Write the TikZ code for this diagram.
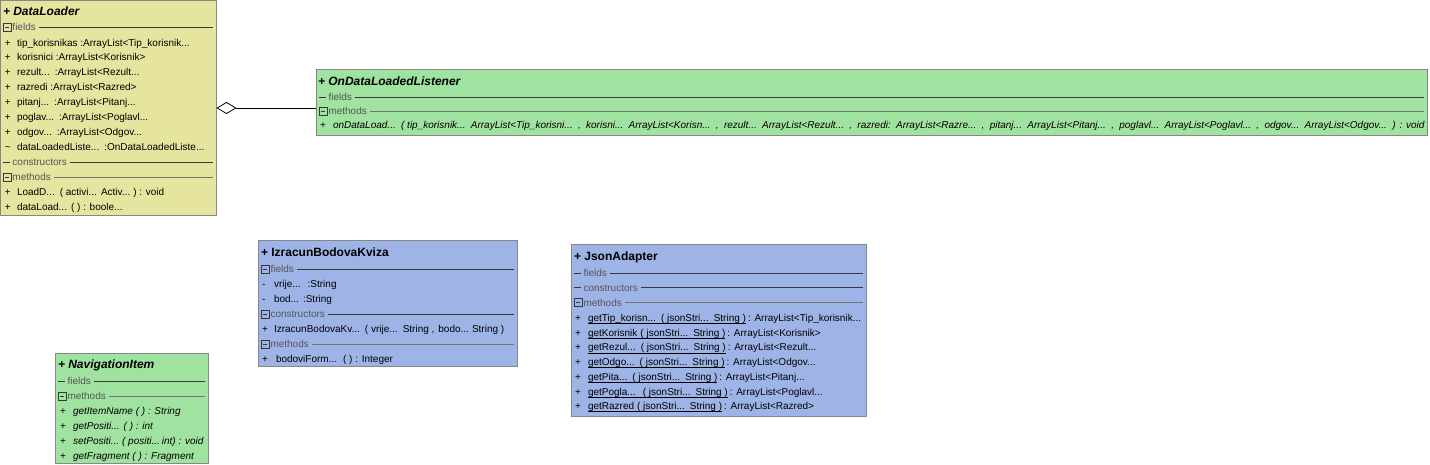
\documentclass[tikz,border=0pt]{standalone}
\usepackage{fontspec}
\setmainfont{Liberation Sans}
\usetikzlibrary{arrows.meta}
\definecolor{dlyellow}{RGB}{229,229,160}
\definecolor{umlgreen}{RGB}{160,226,160}
\definecolor{umlblue}{RGB}{158,180,230}
\definecolor{boxedge}{RGB}{135,135,135}
\definecolor{sepdark}{RGB}{55,55,55}
\definecolor{seplight}{RGB}{115,115,115}
\definecolor{headgray}{RGB}{85,85,85}
\tikzset{
  umlbox/.style={draw=boxedge, line width=1pt, anchor=north west, inner sep=0pt, outer sep=0pt},
  mem/.style={inner sep=0pt, outer sep=0pt, anchor=base west, text=black, font=\fontsize{10}{12}\selectfont},
  imem/.style={mem, font=\fontsize{10}{12}\selectfont\itshape},
  hd/.style={mem, text=headgray},
  ttl/.style={mem, font=\fontsize{12}{14}\selectfont\bfseries},
  ittl/.style={mem, font=\fontsize{12}{14}\selectfont\bfseries\itshape},
  sepd/.style={draw=sepdark, line width=0.8pt},
  sepl/.style={draw=seplight, line width=0.8pt},
  icon/.style={draw=sepdark, line width=0.7pt},
  uline/.style={draw=black, line width=0.7pt},
  aggr/.style={draw=black, line width=0.8pt, {Diamond[open, length=20pt, width=12pt, fill=white]}-},
}
% first segment of a row: name, x, row-centre y, style, text
\newcommand\first[5]{\node[#4] (#1) at (#2,#3+3.5) {#5};}
% following segment: name, previous, gap, style, text
\newcommand\seg[5]{\node[#4] (#1) at ([xshift=#3pt]#2.base east) {#5};}
% section header with collapse box: name, x0, x1, y, label, line style
\newcommand\sechd[6]{%
  \draw[icon] (#2+3,#4-4) rectangle (#2+11,#4+4);
  \draw[icon] (#2+5,#4) -- (#2+9,#4);
  \node[hd] (#1) at (#2+12.5,#4+3.5) {#5};
  \coordinate (#1y) at (#2,#4);
  \draw[#6] (#1.east |- #1y) ++(3pt,0) -- (#3-3,#4);}
% section header with dash lead
\newcommand\secdash[6]{%
  \draw[#6] (#2+3,#4) -- (#2+10,#4);
  \node[hd] (#1) at (#2+12.5,#4+3.5) {#5};
  \coordinate (#1y) at (#2,#4);
  \draw[#6] (#1.east |- #1y) ++(3pt,0) -- (#3-3,#4);}
\begin{document}
\begin{tikzpicture}[x=1pt,y=-1pt]
\useasboundingbox (0,0) rectangle (1430,465);

% ---------- boxes ----------
\node[umlbox, fill=dlyellow, minimum width=216pt, minimum height=215pt] (DataLoader) at (0.5,0.5) {};
\node[umlbox, fill=umlgreen, minimum width=1111pt, minimum height=66pt] (Listener) at (316,70) {};
\node[umlbox, fill=umlblue, minimum width=259pt, minimum height=125pt] (Izracun) at (258,241) {};
\node[umlbox, fill=umlblue, minimum width=295pt, minimum height=171pt] (Json) at (571,245) {};
\node[umlbox, fill=umlgreen, minimum width=153pt, minimum height=110pt] (Nav) at (55,353) {};

% ---------- aggregation ----------
\draw[aggr] (DataLoader.east) -- (DataLoader.east -| Listener.west);

% ---------- DataLoader ----------
\first{dlt}{3}{12}{ittl}{+ DataLoader}
\sechd{dlf}{0}{216}{27}{fields}{sepd}
\first{dl1p}{5}{43}{mem}{+}
\first{dl1}{17}{43}{mem}{tip\_korisnikas :ArrayList<Tip\_korisnik...}
\first{dl2p}{5}{57.5}{mem}{+}
\first{dl2}{17}{57.5}{mem}{korisnici :ArrayList<Korisnik>}
\first{dl3p}{5}{72.5}{mem}{+}
\first{dl3}{17}{72.5}{mem}{rezult...}
\seg{dl3b}{dl3}{5}{mem}{:ArrayList<Rezult...}
\first{dl4p}{5}{87.5}{mem}{+}
\first{dl4}{17}{87.5}{mem}{razredi :ArrayList<Razred>}
\first{dl5p}{5}{102}{mem}{+}
\first{dl5}{17}{102}{mem}{pitanj...}
\seg{dl5b}{dl5}{5}{mem}{:ArrayList<Pitanj...}
\first{dl6p}{5}{117}{mem}{+}
\first{dl6}{17}{117}{mem}{poglav...}
\seg{dl6b}{dl6}{5}{mem}{:ArrayList<Poglavl...}
\first{dl7p}{5}{132.5}{mem}{+}
\first{dl7}{17}{132.5}{mem}{odgov...}
\seg{dl7b}{dl7}{5}{mem}{:ArrayList<Odgov...}
\first{dl8p}{5}{147.5}{mem}{\textasciitilde}
\first{dl8}{17}{147.5}{mem}{dataLoadedListe...}
\seg{dl8b}{dl8}{5}{mem}{:OnDataLoadedListe...}
\secdash{dlc}{0}{216}{162}{constructors}{sepd}
\sechd{dlm}{0}{216}{177}{methods}{sepl}
\first{dl9p}{5}{192.5}{mem}{+}
\first{dl9}{17}{192.5}{mem}{LoadD...}
\seg{dl9b}{dl9}{5}{mem}{( activi...}
\seg{dl9c}{dl9b}{4}{mem}{Activ...}
\seg{dl9d}{dl9c}{3}{mem}{) : void}
\first{dl10p}{5}{207.5}{mem}{+}
\first{dl10}{17}{207.5}{mem}{dataLoad...}
\seg{dl10b}{dl10}{4}{mem}{( ) : boole...}

% ---------- OnDataLoadedListener ----------
\first{lt}{318}{82}{ittl}{+ OnDataLoadedListener}
\secdash{lf}{316}{1427}{97}{fields}{sepd}
\sechd{lm}{316}{1427}{111}{methods}{sepl}
\first{lrp}{320}{125}{mem}{+}
\first{lr1}{333}{125}{imem}{onDataLoad...}
\seg{lr2}{lr1}{5.3}{imem}{( tip\_korisnik...}
\seg{lr3}{lr2}{5.3}{imem}{ArrayList<Tip\_korisni...}
\seg{lr4}{lr3}{5.3}{imem}{,}
\seg{lr5}{lr4}{5.3}{imem}{korisni...}
\seg{lr6}{lr5}{5.3}{imem}{ArrayList<Korisn...}
\seg{lr7}{lr6}{5.3}{imem}{,}
\seg{lr8}{lr7}{5.3}{imem}{rezult...}
\seg{lr9}{lr8}{5.3}{imem}{ArrayList<Rezult...}
\seg{lr10}{lr9}{5.3}{imem}{,}
\seg{lr11}{lr10}{5.3}{imem}{razredi:}
\seg{lr12}{lr11}{5.3}{imem}{ArrayList<Razre...}
\seg{lr13}{lr12}{5.3}{imem}{,}
\seg{lr14}{lr13}{5.3}{imem}{pitanj...}
\seg{lr15}{lr14}{5.3}{imem}{ArrayList<Pitanj...}
\seg{lr16}{lr15}{5.3}{imem}{,}
\seg{lr17}{lr16}{5.3}{imem}{poglavl...}
\seg{lr18}{lr17}{5.3}{imem}{ArrayList<Poglavl...}
\seg{lr19}{lr18}{5.3}{imem}{,}
\seg{lr20}{lr19}{5.3}{imem}{odgov...}
\seg{lr21}{lr20}{5.3}{imem}{ArrayList<Odgov...}
\seg{lr22}{lr21}{5.3}{imem}{)}
\seg{lr23}{lr22}{4}{imem}{: void}

% ---------- IzracunBodovaKviza ----------
\first{it}{261}{253}{ttl}{+ IzracunBodovaKviza}
\sechd{if}{258}{517}{269}{fields}{sepd}
\first{i1p}{262}{284}{mem}{-}
\first{i1}{274}{284}{mem}{vrije...}
\seg{i1b}{i1}{7}{mem}{:String}
\first{i2p}{262}{299}{mem}{-}
\first{i2}{274}{299}{mem}{bod...}
\seg{i2b}{i2}{4}{mem}{:String}
\sechd{ic}{258}{517}{314}{constructors}{sepd}
\first{i3p}{262}{329}{mem}{+}
\first{i3}{274}{329}{mem}{IzracunBodovaKv...}
\seg{i3b}{i3}{5}{mem}{( vrije...}
\seg{i3c}{i3b}{5}{mem}{String ,}
\seg{i3d}{i3c}{4}{mem}{bodo...}
\seg{i3e}{i3d}{3}{mem}{String )}
\sechd{im}{258}{517}{344}{methods}{sepl}
\first{i4p}{262}{359}{mem}{+}
\first{i4}{276}{359}{mem}{bodoviForm...}
\seg{i4b}{i4}{6}{mem}{( ) : Integer}

% ---------- JsonAdapter ----------
\first{jt}{574}{257}{ttl}{+ JsonAdapter}
\secdash{jf}{571}{866}{273}{fields}{sepd}
\secdash{jc}{571}{866}{287.5}{constructors}{sepd}
\sechd{jm}{571}{866}{302.5}{methods}{sepl}
% rows
\first{j1p}{575}{318}{mem}{+}
\first{j1}{588}{318}{mem}{getTip\_korisn...}
\seg{j1b}{j1}{5}{mem}{( jsonStri...}
\seg{j1c}{j1b}{5}{mem}{String )}
\seg{j1d}{j1c}{2}{mem}{: ArrayList<Tip\_korisnik...}
\draw[uline] ([yshift=-2pt]j1.base west) -- ([yshift=-2pt]j1c.base east);
\first{j2p}{575}{332.7}{mem}{+}
\first{j2}{588}{332.7}{mem}{getKorisnik}
\seg{j2b}{j2}{3}{mem}{( jsonStri...}
\seg{j2c}{j2b}{5}{mem}{String )}
\seg{j2d}{j2c}{2}{mem}{: ArrayList<Korisnik>}
\draw[uline] ([yshift=-2pt]j2.base west) -- ([yshift=-2pt]j2c.base east);
\first{j3p}{575}{347.4}{mem}{+}
\first{j3}{588}{347.4}{mem}{getRezul...}
\seg{j3b}{j3}{5}{mem}{( jsonStri...}
\seg{j3c}{j3b}{5}{mem}{String )}
\seg{j3d}{j3c}{2}{mem}{: ArrayList<Rezult...}
\draw[uline] ([yshift=-2pt]j3.base west) -- ([yshift=-2pt]j3c.base east);
\first{j4p}{575}{362.1}{mem}{+}
\first{j4}{588}{362.1}{mem}{getOdgo...}
\seg{j4b}{j4}{5}{mem}{( jsonStri...}
\seg{j4c}{j4b}{5}{mem}{String )}
\seg{j4d}{j4c}{2}{mem}{: ArrayList<Odgov...}
\draw[uline] ([yshift=-2pt]j4.base west) -- ([yshift=-2pt]j4c.base east);
\first{j5p}{575}{376.8}{mem}{+}
\first{j5}{588}{376.8}{mem}{getPita...}
\seg{j5b}{j5}{5}{mem}{( jsonStri...}
\seg{j5c}{j5b}{5}{mem}{String )}
\seg{j5d}{j5c}{2}{mem}{: ArrayList<Pitanj...}
\draw[uline] ([yshift=-2pt]j5.base west) -- ([yshift=-2pt]j5c.base east);
\first{j6p}{575}{391.5}{mem}{+}
\first{j6}{588}{391.5}{mem}{getPogla...}
\seg{j6b}{j6}{7}{mem}{( jsonStri...}
\seg{j6c}{j6b}{5}{mem}{String )}
\seg{j6d}{j6c}{2}{mem}{: ArrayList<Poglavl...}
\draw[uline] ([yshift=-2pt]j6.base west) -- ([yshift=-2pt]j6c.base east);
\first{j7p}{575}{406.2}{mem}{+}
\first{j7}{588}{406.2}{mem}{getRazred}
\seg{j7b}{j7}{3}{mem}{( jsonStri...}
\seg{j7c}{j7b}{5}{mem}{String )}
\seg{j7d}{j7c}{2}{mem}{: ArrayList<Razred>}
\draw[uline] ([yshift=-2pt]j7.base west) -- ([yshift=-2pt]j7c.base east);

% ---------- NavigationItem ----------
\first{nt}{58}{365}{ittl}{+ NavigationItem}
\secdash{nf}{55}{208}{381}{fields}{sepd}
\sechd{nm}{55}{208}{396}{methods}{sepl}
\first{n1p}{60}{411}{mem}{+}
\first{n1}{73}{411}{imem}{getItemName ( ) : String}
\first{n2p}{60}{426}{mem}{+}
\first{n2}{73}{426}{imem}{getPositi...}
\seg{n2b}{n2}{4}{imem}{( ) : int}
\first{n3p}{60}{441}{mem}{+}
\first{n3}{73}{441}{imem}{setPositi...}
\seg{n3b}{n3}{3}{imem}{( positi...}
\seg{n3c}{n3b}{2}{imem}{int) : void}
\first{n4p}{60}{455.5}{mem}{+}
\first{n4}{73}{455.5}{imem}{getFragment ( ) : Fragment}
\end{tikzpicture}
\end{document}
